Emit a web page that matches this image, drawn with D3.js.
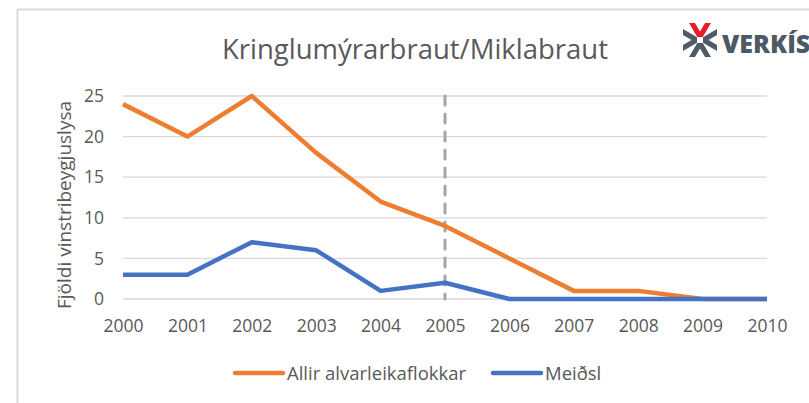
<!DOCTYPE html>
<html><head><meta charset="utf-8">
<script src="https://cdn.jsdelivr.net/npm/d3@7"></script>
<style>body{margin:0;background:#fff;}svg{display:block;}</style>
</head><body>
<svg id="c" width="809" height="403"></svg>
<script>
const years = ["2000","2001","2002","2003","2004","2005","2006","2007","2008","2009","2010"];
const allir = [24,20,25,18,12,9,5,1,1,0,0];
const meidsl = [3,3,7,6,1,2,0,0,0,0,0];
const yTicks = [0,5,10,15,20,25];
const markerYear = "2005";
const seriesNames = ["Allir alvarleikaflokkar","Meiðsl"];
const colors = ["#ED7D31","#4472C4"];
const font = "'Open Sans', sans-serif";

const svg = d3.select("#c");
// frame
svg.append("line").attr("x1",17.5).attr("x2",809).attr("y1",9.5).attr("y2",9.5).attr("stroke","#d9d9d9").attr("stroke-width",2);
svg.append("line").attr("x1",17.5).attr("x2",17.5).attr("y1",9).attr("y2",403).attr("stroke","#d9d9d9").attr("stroke-width",2);

const x = d3.scalePoint().domain(years).range([123,767]);
const y = d3.scaleLinear().domain([0,25]).range([299,96]);

// gridlines
svg.append("g").selectAll("line").data(yTicks).join("line")
  .attr("x1",123).attr("x2",767).attr("y1",d=>y(d)).attr("y2",d=>y(d))
  .attr("stroke","#d9d9d9").attr("stroke-width",1.3);

// axes labels
const yAxis = d3.axisLeft(y).tickValues(yTicks).tickSize(0).tickPadding(19);
const gy = svg.append("g").attr("transform","translate(123,0)").call(yAxis);
gy.select(".domain").remove();
gy.selectAll("text").attr("font-family",font).attr("font-size",17.5).attr("fill","#595959");

const xAxis = d3.axisBottom(x).tickSize(0).tickPadding(14);
const gx = svg.append("g").attr("transform","translate(0,306)").call(xAxis);
gx.select(".domain").remove();
gx.selectAll("text").attr("font-family",font).attr("font-size",17.5).attr("fill","#595959");

// dashed marker
svg.append("line").attr("x1",x(markerYear)).attr("x2",x(markerYear)).attr("y1",y(25)).attr("y2",y(0))
  .attr("stroke","#a5a5a5").attr("stroke-width",3).attr("stroke-dasharray","9,9").attr("stroke-linecap","round");

const line = d3.line().x((d,i)=>x(years[i])).y(d=>y(d));
[allir,meidsl].forEach((s,k)=>{
  svg.append("path").datum(s).attr("d",line).attr("fill","none")
    .attr("stroke",colors[k]).attr("stroke-width",4.5).attr("stroke-linejoin","round");
});

// title
svg.append("text").attr("x",415).attr("y",59).attr("text-anchor","middle")
  .attr("font-family",font).attr("font-size",27.5).attr("fill","#595959").text("Kringlumýrarbraut/Miklabraut");

// y title
svg.append("text").attr("transform","translate(71,205) rotate(-90)").attr("text-anchor","middle")
  .attr("font-family",font).attr("font-size",19).attr("fill","#595959").text("Fjöldi vinstribeygjuslysa");

// legend
const lg = [[235,287],[493,545]];
seriesNames.forEach((n,k)=>{
  svg.append("line").attr("x1",lg[k][0]).attr("x2",lg[k][0]+48).attr("y1",373).attr("y2",373)
    .attr("stroke",colors[k]).attr("stroke-width",4.5).attr("stroke-linecap","round");
  svg.append("text").attr("x",lg[k][1]).attr("y",380).attr("font-family",font).attr("font-size",18.5)
    .attr("fill","#595959").text(n);
});

// logo
const lgG = svg.append("g").attr("transform","translate(700,40)");
const chev = "M-11,-17 L-5,-17 L0,-8.5 L5,-17 L11,-17 L2.8,-3 L-2.8,-3 Z";
lgG.append("path").attr("d",chev).attr("fill","#e3202a");
lgG.append("path").attr("d",chev).attr("transform","rotate(180)").attr("fill","#505b66");
lgG.append("path").attr("d",chev).attr("transform","rotate(90)").attr("fill","#505b66");
lgG.append("path").attr("d",chev).attr("transform","rotate(-90)").attr("fill","#505b66");
svg.append("text").attr("x",722).attr("y",53).attr("font-family",font).attr("font-weight",800)
  .attr("font-size",25).attr("fill","#4d5964").text("VERKÍS");
</script>
</body></html>
